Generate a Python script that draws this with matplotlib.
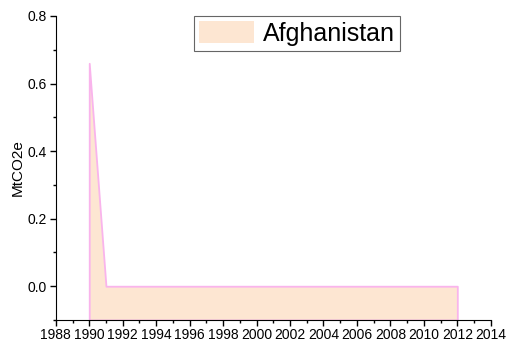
import matplotlib
matplotlib.use('Agg')
import matplotlib.pyplot as plt
from matplotlib.ticker import MultipleLocator

plt.rcParams['font.family'] = ['Liberation Sans', 'DejaVu Sans']

years = list(range(1990, 2013))
emissions = [0.66] + [0.0] * 22
country = 'Afghanistan'
baseline = -0.1

fig = plt.figure(figsize=(5.07, 3.41), dpi=100)
ax = fig.add_axes([0.110, 0.0616, 0.858, 0.8915])

ax.fill_between(years, emissions, baseline, facecolor='#fde6d2',
                edgecolor='#f9b4ec', linewidth=1.3, label=country)

ax.set_xlim(1988, 2014)
ax.set_ylim(-0.1, 0.8)
ax.xaxis.set_major_locator(MultipleLocator(2))
ax.xaxis.set_minor_locator(MultipleLocator(1))
ax.yaxis.set_minor_locator(MultipleLocator(0.1))
ax.set_yticks([0.0, 0.2, 0.4, 0.6, 0.8])
ax.set_yticklabels(['0.0', '0.2', '0.4', '0.6', '0.8'])

ax.tick_params(which='both', direction='out', labelsize=10, width=1)
ax.tick_params(which='major', length=4)
ax.tick_params(which='minor', length=2.5)
ax.tick_params(axis='x', pad=1.5)
ax.tick_params(axis='y', pad=2.5)
ax.spines['top'].set_visible(False)
ax.spines['right'].set_visible(False)
ax.set_ylabel('MtCO2e', fontsize=11, labelpad=2)

leg = ax.legend(loc='upper center', bbox_to_anchor=(0.554, 1.0), fontsize=18,
                frameon=True, fancybox=False, edgecolor='#404040',
                handlelength=2.2, handleheight=1.0, handletextpad=0.35,
                borderpad=0.2, borderaxespad=0)
leg.get_frame().set_linewidth(0.8)
leg.legend_handles[0].set_edgecolor('none')

fig.savefig('out.png', dpi=100)
